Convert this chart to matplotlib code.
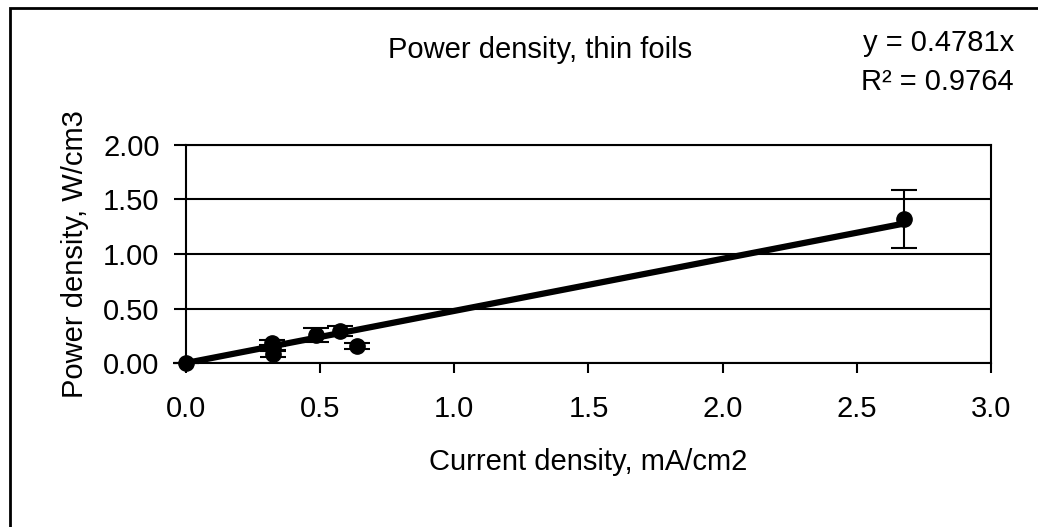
import matplotlib
matplotlib.use("Agg")
import matplotlib.pyplot as plt
import numpy as np
from matplotlib.patches import Rectangle

plt.rcParams['font.family'] = ['Liberation Sans', 'DejaVu Sans']

current = [0.0, 0.319, 0.323, 0.323, 0.485, 0.575, 0.637, 2.676]
power = [0.0, 0.188, 0.135, 0.080, 0.256, 0.296, 0.157, 1.324]
power_err = [0.0, 0.02, 0.02, 0.026, 0.065, 0.045, 0.025, 0.265]
slope = 0.4781
r2 = 0.9764
xticks = [0.0, 0.5, 1.0, 1.5, 2.0, 2.5, 3.0]
yticks = [0.0, 0.5, 1.0, 1.5, 2.0]

FS = 21

fig = plt.figure(figsize=(10.38, 5.27), dpi=100)
fig.patches.append(Rectangle((10/1038, -0.1), 1.2, 1 - 8/527 + 0.1, transform=fig.transFigure,
                             fill=False, edgecolor='black', linewidth=2, zorder=0))
ax = fig.add_axes([186/1038, 1 - 363/527, (991 - 186)/1038, (363 - 145)/527])

for y in yticks:
    ax.axhline(y, color='black', linewidth=1.5, zorder=1)

xfit = np.array([0.0, max(current)])
ax.plot(xfit, slope * xfit, color='black', linewidth=4.5, zorder=2, solid_capstyle='butt')
cont = ax.errorbar(current, power, yerr=power_err, fmt='o', color='black', markersize=11,
                   ecolor='black', elinewidth=1.5, capsize=9.5, capthick=1.5, zorder=3)
arts = [cont.lines[0]] + list(cont.lines[1]) + list(cont.lines[2])
for art in arts:
    if art is not None:
        art.set_clip_on(False)

ax.set_xlim(0, 3.0)
ax.set_ylim(0, 2.0)
ax.set_xticks(xticks)
ax.set_xticklabels([f"{v:.1f}" for v in xticks])
ax.set_yticks(yticks)
ax.set_yticklabels([f"{v:.2f}" for v in yticks])
ax.tick_params(axis='both', direction='out', width=1.5, labelsize=FS, colors='black')
ax.tick_params(axis='x', length=7, pad=16)
ax.tick_params(axis='y', length=9, pad=10)
for s in ax.spines.values():
    s.set_linewidth(1.5)
    s.set_color('black')

ax.set_xlabel("Current density, mA/cm2", fontsize=FS, labelpad=18)
ax.set_ylabel("Power density, W/cm3", fontsize=FS, labelpad=10)

fig.text(540/1038, 1 - 50/527, "Power density, thin foils", fontsize=FS, ha='center', va='center')
fig.text(1014/1038, 1 - 43/527, f"y = {slope}x", fontsize=FS, ha='right', va='center')
fig.text(1014/1038, 1 - 82/527, f"R² = {r2}", fontsize=FS, ha='right', va='center')

fig.savefig("out.png", dpi=100)
